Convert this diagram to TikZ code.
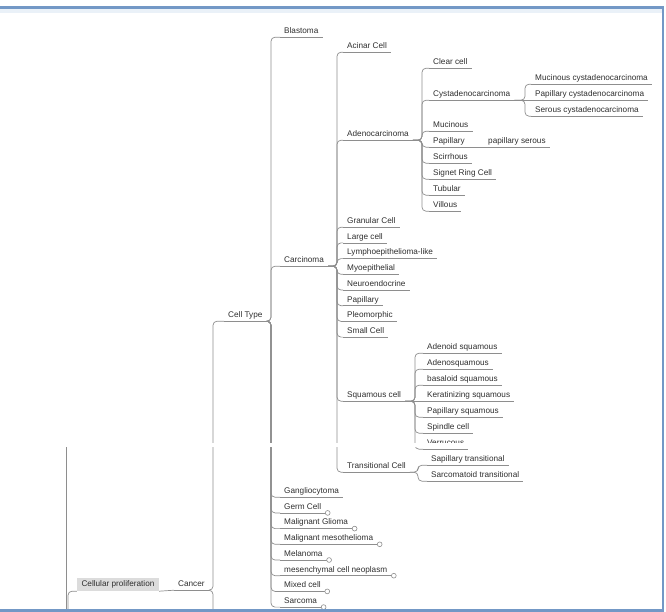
\documentclass[tikz,border=0pt]{standalone}
\usepackage{fontspec}
\setmainfont{Liberation Sans}
\usetikzlibrary{positioning, calc}
\definecolor{InkGray}{HTML}{2E2E2E}
\definecolor{LineGray}{HTML}{8E8E8E}
\definecolor{TagGray}{HTML}{DCDCDC}
\definecolor{FrameBlue}{HTML}{7398C6}
\definecolor{PaleBlue}{HTML}{EAF1F8}

\begin{document}
\begin{tikzpicture}[
  x=1pt, y=-1pt,
  uline/.style={draw=LineGray, line width=0.7pt},
  topic/.style={anchor=base west, inner xsep=4pt, inner ysep=1.5pt,
    text height=6pt, text depth=2pt, font=\fontsize{8.2}{9}\selectfont, text=InkGray,
    append after command={(\tikzlastnode.south west) edge[uline] (\tikzlastnode.south east)}},
  tag/.style={fill=TagGray, minimum width=82pt, minimum height=13pt, inner sep=0pt,
    text height=6pt, text depth=2pt, font=\fontsize{8.2}{9}\selectfont, text=InkGray},
  conn/.style={draw=LineGray, line width=0.7pt, rounded corners=4pt},
  knob/.style={draw=LineGray, fill=white, line width=0.6pt},
  frame/.style={draw=FrameBlue, line width=2.2pt}
]
  \useasboundingbox (0,0) rectangle (666,612);

  % root side
  \node[tag] (cellprolif) at (118,584.5) {Cellular proliferation};
  \node[topic] (cancer) at (174,586.5) {Cancer};
  \node[topic] (celltype) at (224,317.5) {Cell Type};

  % cell type
  \node[topic] (blastoma)  at (280,33.5)  {Blastoma};
  \node[topic] (carcinoma) at (280,262.5) {Carcinoma};
  \node[topic] (ganglio)   at (280,493.5) {Gangliocytoma};
  \node[topic] (germ)      at (280,509.2) {Germ Cell};
  \node[topic] (glioma)    at (280,524.9) {Malignant Glioma};
  \node[topic] (meso)      at (280,540.6) {Malignant mesothelioma};
  \node[topic] (melanoma)  at (280,556.3) {Melanoma};
  \node[topic] (mesench)   at (280,572)   {mesenchymal cell neoplasm};
  \node[topic] (mixed)     at (280,587.7) {Mixed cell};
  \node[topic] (sarcoma)   at (280,603.4) {Sarcoma};

  % carcinoma
  \node[topic] (acinar)       at (343,48.5)  {Acinar Cell};
  \node[topic] (adeno)        at (343,136.5) {Adenocarcinoma};
  \node[topic] (granular)     at (343,223.5) {Granular Cell};
  \node[topic] (large)        at (343,239.2) {Large cell};
  \node[topic] (lympho)       at (343,254.9) {Lymphoepithelioma-like};
  \node[topic] (myo)          at (343,270.6) {Myoepithelial};
  \node[topic] (neuro)        at (343,286.3) {Neuroendocrine};
  \node[topic] (papill)       at (343,302)   {Papillary};
  \node[topic] (pleo)         at (343,317.7) {Pleomorphic};
  \node[topic] (small)        at (343,333.4) {Small Cell};
  \node[topic] (squamous)     at (343,397.5) {Squamous cell};
  \node[topic] (transitional) at (343,468.5) {Transitional Cell};

  % adenocarcinoma
  \node[topic] (clear)     at (429,64.5)  {Clear cell};
  \node[topic] (cyst)      at (429,96.5)  {Cystadenocarcinoma};
  \node[topic] (mucinous)  at (429,127.5) {Mucinous};
  \node[topic] (papillary) at (429,143.5) {Papillary};
  \node[topic] (scirrhous) at (429,159.5) {Scirrhous};
  \node[topic] (signet)    at (429,175.5) {Signet Ring Cell};
  \node[topic] (tubular)   at (429,191.5) {Tubular};
  \node[topic] (villous)   at (429,207.5) {Villous};

  \node[topic] (mucicyst)   at (531,80.5)  {Mucinous cystadenocarcinoma};
  \node[topic] (papcyst)    at (531,96.5)  {Papillary cystadenocarcinoma};
  \node[topic] (serouscyst) at (531,112.5) {Serous cystadenocarcinoma};
  \node[topic] (papserous)  at (484,143.5) {papillary serous};

  % squamous / transitional
  \node[topic] (adenoid)   at (423,349.5) {Adenoid squamous};
  \node[topic] (adenosq)   at (423,365.5) {Adenosquamous};
  \node[topic] (basaloid)  at (423,381.5) {basaloid squamous};
  \node[topic] (kerat)     at (423,397.5) {Keratinizing squamous};
  \node[topic] (papsq)     at (423,413.5) {Papillary squamous};
  \node[topic] (spindle)   at (423,429.5) {Spindle cell};
  \node[topic] (verrucous) at (423,445.5) {Verrucous};
  \node[topic] (sapillary)   at (427,461.5) {Sapillary transitional};
  \node[topic] (sarcomatoid) at (427,477.5) {Sarcomatoid transitional};

  % free ends
  \coordinate (rootin) at (68,612);
  \coordinate (sidetop) at (66,447);
  \coordinate (sidebot) at (66,612);
  \coordinate (cancerdn) at (213,612);

  % connectors
  \draw[conn] (rootin) |- (cellprolif.south west);
  \draw[conn] (sidetop) -- (sidebot);
  \draw[conn] (cellprolif.south east) -- (cancer.south west);
  \draw[conn] (cancer.south east) -| ([xshift=-11pt]celltype.south west) -- (celltype.south west);
  \draw[conn] (cancer.south east) -| (cancerdn);

  \foreach \c in {blastoma, carcinoma, ganglio, germ, glioma, meso, melanoma, mesench, mixed, sarcoma}
    \draw[conn] (celltype.south east) -| ([xshift=-9pt]\c.south west) -- (\c.south west);
  \foreach \c in {acinar, adeno, granular, large, lympho, myo, neuro, papill, pleo, small, squamous, transitional}
    \draw[conn] (carcinoma.south east) -| ([xshift=-6pt]\c.south west) -- (\c.south west);
  \foreach \c in {clear, cyst, mucinous, papillary, scirrhous, signet, tubular, villous}
    \draw[conn] (adeno.south east) -| ([xshift=-7pt]\c.south west) -- (\c.south west);
  \foreach \c in {mucicyst, serouscyst}
    \draw[conn] (cyst.south east) -| ([xshift=-6pt]\c.south west) -- (\c.south west);
  \draw[conn] (cyst.south east) -- (papcyst.south west);
  \draw[conn] (papillary.south east) -- (papserous.south west);
  \foreach \c in {adenoid, adenosq, basaloid, papsq, spindle, verrucous}
    \draw[conn] (squamous.south east) -| ([xshift=-8pt]\c.south west) -- (\c.south west);
  \draw[conn] (squamous.south east) -- (kerat.south west);
  \foreach \c in {sapillary, sarcomatoid}
    \draw[conn] (transitional.south east) -| ([xshift=-9pt]\c.south west) -- (\c.south west);

  % folded markers
  \foreach \c in {germ, glioma, meso, melanoma, mesench, mixed, sarcoma}
    \draw[knob] ([xshift=2.4pt]\c.south east) circle (2.4pt);

  % seam and window frame
  \fill[white] (0,443) rectangle (662,447);
  \fill[PaleBlue] (0,8.5) rectangle (662,13);
  \draw[frame] (0,7.5) -| (663,610.5) -- (0,610.5);
\end{tikzpicture}
\end{document}
